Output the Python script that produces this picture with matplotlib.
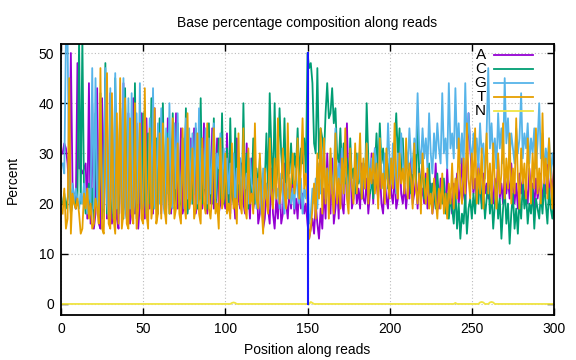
import matplotlib
matplotlib.use("Agg")
import matplotlib.pyplot as plt
import numpy as np

plt.rcParams['font.family'] = ['Liberation Sans', 'DejaVu Sans']
plt.rcParams['font.size'] = 10

# positions along reads
pos = np.arange(1, 301)

# base percentages (10 values per row)
A = [30, 32, 31, 28, 22, 50, 24, 21, 19, 48,
     27, 27, 26, 27, 28, 17, 44, 16, 40, 15,
     18, 43, 16, 15, 41, 19, 45, 17, 18, 42,
     16, 20, 40, 17, 15, 39, 18, 44, 20, 17,
     38, 16, 19, 41, 18, 36, 15, 20, 38, 19,
     17, 37, 21, 19, 35, 18, 39, 20, 22, 36,
     18, 34, 20, 19, 37, 21, 18, 33, 20, 38,
     19, 22, 35, 18, 20, 36, 22, 19, 33, 21,
     35, 18, 20, 34, 23, 19, 36, 21, 18, 32,
     20, 35, 19, 22, 33, 18, 20, 31, 21, 19,
     34, 20, 18, 30, 22, 17, 33, 21, 19, 28,
     20, 18, 32, 22, 17, 29, 19, 21, 26, 16,
     18, 24, 15, 17, 22, 19, 16, 27, 18, 15,
     21, 17, 25, 16, 18, 28, 20, 17, 23, 19,
     26, 18, 21, 17, 24, 19, 22, 18, 20, 16,
     13, 15, 17, 14, 20, 16, 13, 19, 15, 23,
     17, 30, 21, 18, 29, 16, 19, 24, 17, 32,
     20, 18, 26, 36, 22, 30, 19, 21, 27, 20,
     23, 19, 28, 21, 20, 25, 18, 22, 30, 20,
     31, 24, 21, 27, 20, 18, 25, 21, 19, 28,
     22, 20, 26, 19, 21, 33, 22, 20, 24, 19,
     23, 21, 29, 20, 22, 25, 19, 27, 21, 23,
     20, 26, 19, 22, 24, 18, 21, 28, 20, 19,
     25, 21, 23, 19, 27, 20, 22, 18, 24, 21,
     26, 20, 23, 29, 22, 20, 27, 38, 31, 26,
     22, 25, 21, 28, 23, 20, 26, 22, 24, 21,
     27, 23, 20, 25, 22, 29, 21, 24, 20, 26,
     22, 25, 21, 28, 23, 20, 24, 19, 26, 22,
     25, 21, 23, 20, 27, 22, 24, 19, 25, 21,
     23, 26, 20, 24, 22, 28, 21, 25, 23, 27]

C = [20, 22, 19, 21, 23, 18, 20, 22, 19, 21,
     53, 20, 53, 22, 18, 21, 24, 19, 23, 17,
     38, 20, 18, 42, 17, 21, 48, 18, 20, 37,
     19, 17, 45, 21, 18, 40, 20, 17, 43, 22,
     19, 36, 18, 21, 44, 17, 20, 35, 19, 38,
     21, 18, 34, 20, 41, 19, 22, 33, 18, 37,
     20, 40, 19, 23, 34, 18, 21, 38, 20, 22,
     36, 19, 21, 33, 20, 39, 18, 22, 31, 20,
     24, 35, 19, 21, 41, 20, 23, 30, 19, 36,
     22, 20, 37, 19, 24, 33, 21, 38, 20, 23,
     31, 19, 37, 22, 20, 35, 21, 24, 29, 20,
     40, 21, 30, 19, 25, 22, 33, 20, 27, 23,
     29, 21, 26, 24, 34, 22, 42, 31, 23, 40,
     24, 28, 39, 30, 25, 37, 23, 29, 26, 32,
     24, 30, 27, 35, 25, 31, 28, 33, 26, 50,
     47, 48, 44, 32, 30, 47, 29, 35, 33, 29,
     38, 44, 37, 38, 43, 36, 39, 30, 28, 35,
     26, 32, 24, 29, 21, 33, 25, 27, 22, 30,
     24, 26, 21, 28, 23, 40, 29, 22, 25, 21,
     27, 34, 26, 36, 28, 31, 25, 30, 23, 29,
     26, 24, 31, 38, 29, 35, 26, 33, 24, 28,
     30, 25, 22, 27, 32, 24, 36, 26, 23, 29,
     21, 25, 23, 28, 20, 24, 22, 19, 26, 21,
     23, 20, 25, 18, 22, 17, 21, 19, 16, 23,
     15, 20, 13, 18, 16, 22, 14, 19, 21, 17,
     22, 18, 24, 20, 26, 19, 23, 17, 21, 25,
     18, 22, 15, 20, 24, 17, 21, 13, 19, 23,
     16, 20, 12, 18, 22, 15, 19, 14, 21, 17,
     24, 19, 22, 16, 20, 18, 23, 15, 21, 19,
     17, 22, 18, 24, 20, 16, 23, 19, 17, 21]

G = [28, 26, 53, 53, 22, 19, 24, 20, 23, 21,
     19, 22, 20, 24, 21, 18, 23, 20, 47, 19,
     45, 21, 18, 40, 22, 19, 47, 20, 17, 43,
     21, 18, 46, 19, 22, 39, 18, 45, 20, 17,
     41, 19, 42, 18, 21, 38, 20, 44, 19, 22,
     40, 18, 21, 37, 20, 43, 19, 22, 36, 20,
     39, 21, 18, 35, 22, 40, 20, 19, 36, 23,
     38, 20, 22, 33, 19, 37, 21, 35, 20, 34,
     22, 36, 20, 39, 21, 31, 23, 35, 20, 33,
     22, 29, 36, 21, 30, 27, 34, 22, 31, 25,
     29, 22, 28, 25, 30, 20, 27, 24, 29, 21,
     28, 23, 26, 20, 29, 24, 22, 27, 19, 25,
     23, 18, 27, 21, 24, 19, 26, 22, 20, 25,
     21, 23, 19, 26, 22, 18, 24, 21, 25, 20,
     23, 19, 27, 22, 20, 25, 18, 23, 21, 26,
     16, 18, 23, 20, 25, 19, 28, 22, 26, 33,
     21, 27, 24, 30, 22, 26, 35, 23, 28, 24,
     31, 22, 27, 25, 20, 29, 24, 21, 27, 23,
     30, 25, 22, 28, 24, 32, 26, 23, 29, 25,
     31, 27, 24, 33, 26, 23, 30, 25, 36, 28,
     24, 32, 27, 22, 30, 26, 34, 28, 25, 31,
     27, 35, 29, 26, 33, 30, 42, 31, 28, 35,
     29, 33, 27, 38, 30, 26, 34, 29, 36, 31,
     28, 42, 30, 33, 27, 44, 31, 34, 29, 43,
     31, 36, 28, 34, 27, 44, 30, 38, 32, 28,
     34, 29, 33, 27, 36, 30, 32, 25, 34, 47,
     31, 36, 29, 33, 27, 38, 31, 35, 28, 45,
     32, 37, 29, 34, 31, 28, 35, 30, 33, 42,
     29, 34, 31, 36, 28, 33, 30, 35, 27, 32,
     40, 29, 34, 26, 31, 28, 33, 25, 30, 27]

T = [18, 23, 15, 17, 45, 14, 22, 20, 19, 21,
     18, 14, 15, 22, 19, 23, 17, 20, 15, 16,
     21, 19, 16, 47, 15, 14, 30, 46, 16, 15,
     42, 17, 14, 38, 16, 45, 15, 18, 41, 16,
     15, 37, 18, 16, 40, 15, 19, 36, 17, 16,
     43, 18, 15, 35, 17, 20, 39, 16, 18, 34,
     17, 36, 19, 16, 33, 18, 20, 37, 17, 19,
     32, 18, 16, 35, 20, 17, 38, 19, 21, 31,
     17, 19, 34, 18, 16, 33, 20, 18, 36, 19,
     17, 22, 35, 18, 20, 15, 33, 19, 21, 30,
     18, 20, 17, 32, 19, 21, 16, 34, 20, 18,
     35, 19, 17, 31, 20, 22, 18, 36, 21, 19,
     30, 20, 14, 27, 21, 18, 33, 22, 19, 29,
     21, 37, 20, 23, 31, 22, 19, 36, 21, 24,
     30, 22, 25, 33, 21, 27, 37, 23, 26, 20,
     13, 15, 19, 24, 17, 30, 21, 35, 18, 33,
     20, 27, 17, 31, 22, 18, 34, 20, 25, 19,
     29, 22, 35, 21, 18, 31, 24, 20, 32, 22,
     26, 34, 21, 29, 23, 32, 20, 27, 24, 30,
     22, 28, 19, 33, 23, 26, 20, 31, 24, 21,
     29, 23, 36, 25, 21, 30, 24, 27, 22, 33,
     21, 28, 25, 19, 32, 23, 20, 26, 18, 30,
     24, 20, 27, 19, 22, 18, 25, 21, 17, 23,
     19, 26, 18, 22, 17, 24, 20, 28, 19, 25,
     21, 33, 24, 20, 29, 22, 36, 25, 21, 30,
     23, 35, 20, 27, 22, 31, 19, 26, 34, 22,
     28, 20, 32, 24, 19, 30, 22, 26, 36, 21,
     29, 23, 34, 20, 27, 22, 37, 25, 19, 31,
     24, 28, 21, 33, 26, 20, 30, 23, 35, 22,
     27, 20, 38, 24, 29, 21, 33, 25, 19, 28]

# N is zero except for a few small bumps
n_bump_pos = [104, 105, 106, 152, 153, 240, 255, 256, 257, 261, 262, 263]
n_bump_val = [0.2, 0.3, 0.2, 0.4, 0.2, 0.2, 0.3, 0.4, 0.3, 0.3, 0.4, 0.3]
N = np.zeros(len(pos))
for p, v in zip(n_bump_pos, n_bump_val):
    N[p - 1] = v

# boundary between read 1 and read 2
read_split = 150

series = [("A", A, "#9400D3"), ("C", C, "#009E73"), ("G", G, "#56B4E9"),
          ("T", T, "#E69F00"), ("N", N, "#F0E442")]

fig = plt.figure(figsize=(5.76, 3.6), dpi=100)
ax = fig.add_axes([61 / 576, 45 / 360, 493 / 576, 271 / 360])

for name, vals, col in series:
    ax.plot(pos, vals, color=col, lw=1.3)

ax.plot([read_split, read_split], [0, 50], color="#1a1aff", lw=1.5)

ax.set_xlim(0, 300)
ax.set_ylim(-2.2, 51.8)
ax.set_xticks(range(0, 301, 50))
ax.set_yticks(range(0, 51, 10))
ax.tick_params(direction="in", length=5, width=1, top=True, right=True, pad=5)
ax.grid(True, color="#bbbbbb", linestyle=(0, (1, 2)), lw=0.8)
for s in ax.spines.values():
    s.set_linewidth(1.3)

ax.set_title("Base percentage composition along reads", fontsize=10, pad=12)
ax.set_xlabel("Position along reads", labelpad=5)
ax.set_ylabel("Percent", labelpad=13)

# gnuplot-style key: right-aligned letter, then the line sample
for i, (name, vals, col) in enumerate(series):
    y = 0.96 - i * 0.0517
    ax.text(0.862, y, name, transform=ax.transAxes, ha="right", va="center", fontsize=11)
    ax.plot([0.878, 0.957], [y, y], color=col, lw=1.3, transform=ax.transAxes)

fig.savefig("out.png", dpi=100)
